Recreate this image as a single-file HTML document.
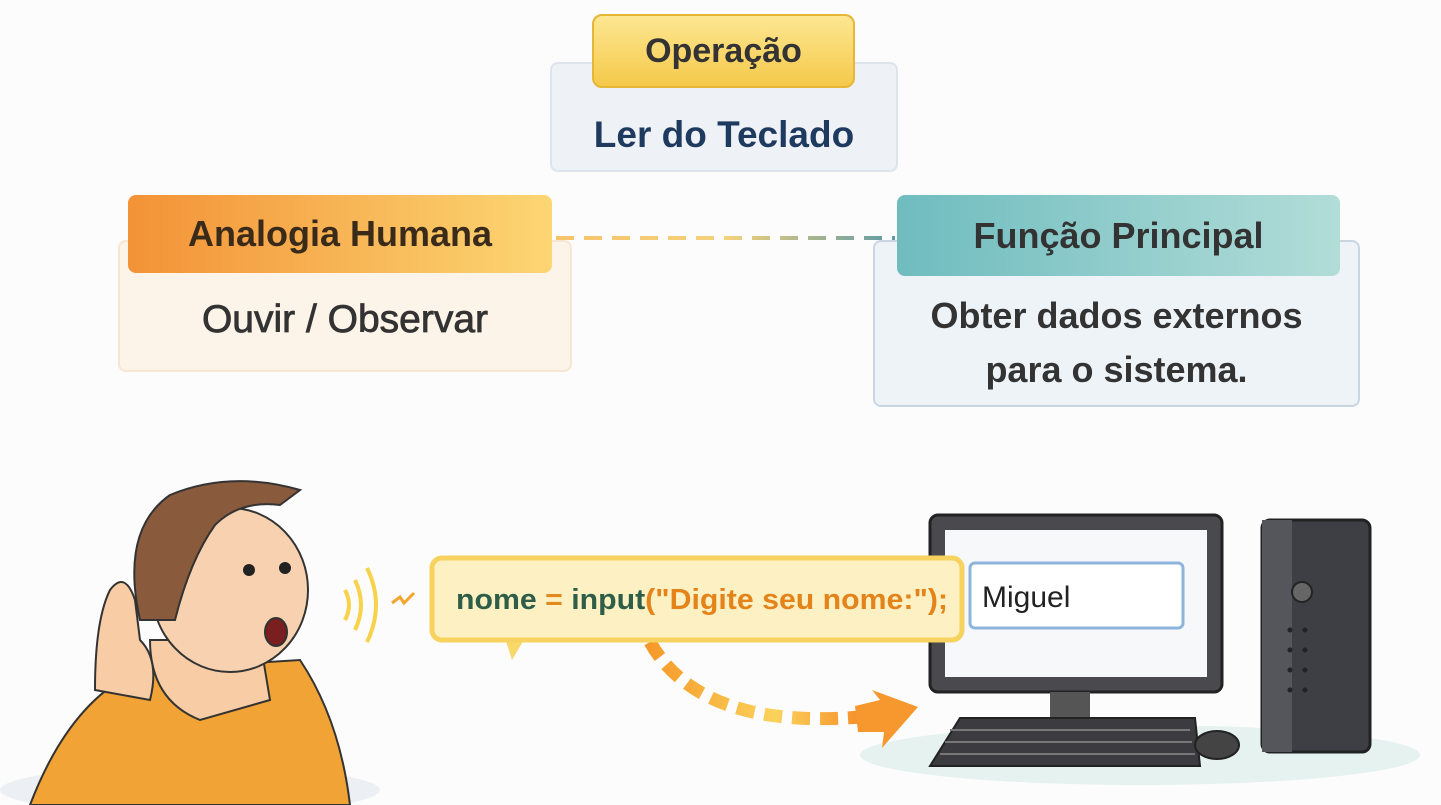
<!DOCTYPE html>
<html><head><meta charset="utf-8"><style>
body{margin:0;width:1441px;height:805px;background:#fcfcfd;position:relative;overflow:hidden;font-family:"Liberation Sans",sans-serif;font-weight:bold}
.a{position:absolute;box-sizing:border-box;display:flex;align-items:center;justify-content:center;text-align:center}
</style></head><body>
<div class="a" style="left:550px;top:62px;width:348px;height:110px;background:#eef2f6;border:2px solid #dde4ec;border-radius:8px;padding-top:36px;color:#1f3a5f;font-size:37px">Ler do Teclado</div>
<div class="a" style="left:592px;top:14px;width:263px;height:74px;background:linear-gradient(#fde792,#f5c94a);border:2px solid #e6b636;border-radius:10px;color:#333;font-size:34px">Operação</div>

<div class="a" style="left:118px;top:240px;width:454px;height:132px;background:#fdf4e9;border:2px solid #f6e6d2;border-radius:8px;padding-top:28px;color:#333;font-size:39px;font-weight:normal;-webkit-text-stroke:0.8px #333">Ouvir / Observar</div>
<div class="a" style="left:128px;top:195px;width:424px;height:78px;background:linear-gradient(90deg,#f39236,#fcd673);border-radius:8px;color:#3a2a1a;font-size:36px">Analogia Humana</div>

<div class="a" style="left:873px;top:240px;width:487px;height:167px;background:#eef3f8;border:2px solid #c9d6e2;border-radius:8px;padding-top:38px;color:#333;font-size:36px;line-height:54px">Obter dados externos<br>para o sistema.</div>
<div class="a" style="left:897px;top:195px;width:443px;height:81px;background:linear-gradient(90deg,#6fbcbf,#b2ddd8);border-radius:8px;color:#333;font-size:36px">Função Principal</div>

<svg style="position:absolute;left:0;top:0" width="1441" height="805">
<defs><linearGradient id="dl" gradientUnits="userSpaceOnUse" x1="556" y1="0" x2="895" y2="0"><stop offset="0" stop-color="#f6c36a"/><stop offset=".5" stop-color="#f4d27a"/><stop offset="1" stop-color="#5e9aa6"/></linearGradient>
<linearGradient id="ar" x1="0" x2="1"><stop offset="0" stop-color="#f59a2a"/><stop offset=".6" stop-color="#fbd35c"/><stop offset="1" stop-color="#f5902a"/></linearGradient></defs>
<line x1="556" y1="238" x2="895" y2="238" stroke="url(#dl)" stroke-width="4" stroke-dasharray="18 10"/>
<!-- sound -->
<path d="M345 590 q8 15 0 30 M355 580 q12 25 0 50 M367 568 q18 37 0 74" fill="none" stroke="#f7d24a" stroke-width="4"/>
<path d="M392 603 l8 -6 l4 6 l10 -10" fill="none" stroke="#f3a52c" stroke-width="3"/>
<!-- person -->
<ellipse cx="190" cy="790" rx="190" ry="24" fill="#eceff3"/>
<path d="M30 805 Q70 700 140 670 L300 660 Q340 720 350 805 Z" fill="#f2a335" stroke="#333" stroke-width="2"/>
<path d="M150 640 Q150 700 200 720 L270 700 L260 640 Z" fill="#f8cda6" stroke="#333" stroke-width="2"/>
<ellipse cx="230" cy="590" rx="78" ry="82" fill="#f8d2b0" stroke="#333" stroke-width="2"/>
<path d="M140 620 Q120 530 170 495 Q230 470 300 490 L280 505 Q240 500 215 525 Q190 560 175 620 Z" fill="#8a5a3c" stroke="#333" stroke-width="2"/>
<circle cx="249" cy="570" r="6" fill="#222"/><circle cx="285" cy="568" r="6" fill="#222"/>
<ellipse cx="276" cy="632" rx="11" ry="14" fill="#7a1f1f" stroke="#333" stroke-width="2"/>
<path d="M95 690 Q95 620 110 590 Q125 570 135 600 L140 640 Q160 660 150 700 Z" fill="#f8cda6" stroke="#333" stroke-width="2"/>
<!-- monitor -->
<ellipse cx="1140" cy="755" rx="280" ry="30" fill="#e6f2ef"/>
<rect x="930" y="515" width="292" height="177" rx="8" fill="#4a4a4e" stroke="#222" stroke-width="3"/>
<rect x="945" y="530" width="262" height="147" fill="#f6f8f9"/>
<rect x="1050" y="692" width="40" height="26" fill="#555"/>
<path d="M960 718 L1195 718 L1200 766 L930 766 Z" fill="#3c3c40" stroke="#222" stroke-width="2"/>
<g stroke="#777" stroke-width="2"><line x1="950" y1="730" x2="1190" y2="730"/><line x1="945" y1="742" x2="1192" y2="742"/><line x1="940" y1="754" x2="1195" y2="754"/></g>
<ellipse cx="1217" cy="745" rx="22" ry="14" fill="#444" stroke="#222" stroke-width="2"/>
<rect x="1262" y="520" width="108" height="232" rx="8" fill="#3e3f44" stroke="#222" stroke-width="3"/>
<rect x="1262" y="520" width="30" height="232" fill="#55565b"/>
<circle cx="1302" cy="592" r="10" fill="#666" stroke="#222" stroke-width="2"/>
<g fill="#222"><circle cx="1290" cy="630" r="2.5"/><circle cx="1305" cy="630" r="2.5"/><circle cx="1290" cy="650" r="2.5"/><circle cx="1305" cy="650" r="2.5"/><circle cx="1290" cy="670" r="2.5"/><circle cx="1305" cy="670" r="2.5"/><circle cx="1290" cy="690" r="2.5"/><circle cx="1305" cy="690" r="2.5"/></g>
<rect x="970" y="563" width="213" height="65" rx="5" fill="#fff" stroke="#8db4dc" stroke-width="3"/>
<text x="982" y="607" font-size="30" font-family="Liberation Sans" font-weight="normal" fill="#222">Miguel</text>
<!-- arrow -->
<path d="M650 642 Q700 730 860 717" fill="none" stroke="url(#ar)" stroke-width="13" stroke-dasharray="18 10"/>
<path d="M855 706 L880 700 L872 690 L918 707 L882 748 L884 732 L858 732 Z" fill="#f6982e"/>
<!-- bubble -->
<path d="M505 638 L512 660 L525 638 Z" fill="#f8d86a"/>
<rect x="432" y="558" width="530" height="82" rx="10" fill="#fdf1c4" stroke="#f7d25e" stroke-width="5"/>
<text x="456" y="609" font-size="29" font-weight="bold" fill="#2f5e48" font-family="Liberation Sans" textLength="492" lengthAdjust="spacingAndGlyphs">nome <tspan fill="#e08a1e">=</tspan> input<tspan fill="#e3831a">("Digite seu nome:");</tspan></text>
</svg>
</body></html>
